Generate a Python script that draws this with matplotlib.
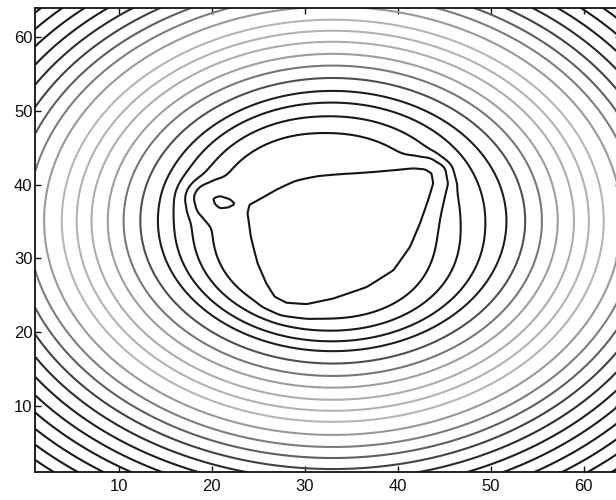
import numpy as np
import matplotlib
matplotlib.use("Agg")
import matplotlib.pyplot as plt
from matplotlib.path import Path
from matplotlib.colors import LinearSegmentedColormap

# Matrix size (MATLAB-style 1-based indices)
n_cols = 64
n_rows = 64

# Contour levels (field value = effective distance from the basin centre)
levels = [6.0, 12.1, 14.55, 16.8, 18.75, 20.7, 22.5, 24.2, 25.95, 27.55, 29.15,
          31.05, 32.8, 34.4, 36.0, 37.6, 39.2, 40.8, 42.4, 44.0, 45.6, 47.2, 48.8]

# Basin centre / vertical scaling of the outer rings and of the inner rings
outer_centre = [33.0, 35.1]
outer_aspect = 1.07
inner_centre = [32.1, 34.2]
inner_aspect = 0.945
inner_power = 2.2

# Outline of the flat minimum region
plateau_x = [24.09, 23.9, 24.27, 24.98, 25.88, 26.77, 28.03, 30.18, 33.04, 36.63,
             39.5, 41.29, 42.37, 43.26, 43.8, 43.62, 42.9, 41.65, 38.06, 34.48,
             31.61, 29.11, 26.96, 25.16]
plateau_y = [37.23, 36.1, 32.94, 29.33, 26.62, 24.81, 24.0, 23.82, 24.59, 26.16,
             28.43, 31.58, 34.75, 37.91, 40.17, 41.53, 42.07, 42.2, 41.75, 41.3,
             40.85, 40.17, 39.04, 37.91]

# Outline of the small secondary minimum
island_x = [20.14, 20.86, 21.94, 22.47, 21.75, 20.86, 20.32]
island_y = [38.14, 38.45, 38.0, 37.37, 36.92, 36.79, 37.37]

# Distance over which each minimum climbs to the second level
plateau_rise = 1.5
island_rise = 2.0
blend_width = 1.3
saddle_width = 1.6

x = np.linspace(1, n_cols, 253)
y = np.linspace(1, n_rows, 253)
X, Y = np.meshgrid(x, y)


def signed_distance(px, py, vx, vy):
    vx = np.asarray(vx, float)
    vy = np.asarray(vy, float)
    bx_, by_ = np.roll(vx, -1), np.roll(vy, -1)
    d = np.full(px.shape, np.inf)
    for x0, y0, x1, y1 in zip(vx, vy, bx_, by_):
        ex, ey = x1 - x0, y1 - y0
        t = np.clip(((px - x0) * ex + (py - y0) * ey) / (ex * ex + ey * ey), 0, 1)
        d = np.minimum(d, np.hypot(px - (x0 + t * ex), py - (y0 + t * ey)))
    inside = Path(np.column_stack([vx, vy])).contains_points(
        np.column_stack([px.ravel(), py.ravel()])).reshape(px.shape)
    return np.where(inside, -d, d)


def soft_min(a, b, k):
    lo = np.minimum(a, b)
    return lo - k * np.log(np.exp(-(a - lo) / k) + np.exp(-(b - lo) / k))


r_out = np.hypot(X - outer_centre[0], outer_aspect * (Y - outer_centre[1]))
r_in = (np.abs(X - inner_centre[0]) ** inner_power
        + np.abs(inner_aspect * (Y - inner_centre[1])) ** inner_power) ** (1.0 / inner_power)
w = np.clip((r_out - 12.0) / 8.0, 0, 1)
w = w * w * (3 - 2 * w)
r = (1 - w) * r_in + w * r_out

step = levels[1] - levels[0]
d_main = signed_distance(X, Y, plateau_x, plateau_y)
d_isl = signed_distance(X, Y, island_x, island_y)
p_main = levels[0] + step * d_main / plateau_rise
p_isl = levels[0] + step * d_isl / island_rise
# keep the two minima separate at the first level, merge them smoothly above it
p_both = np.where((d_main <= 0) | (d_isl <= 0), np.minimum(p_main, p_isl),
                  np.maximum(soft_min(p_main, p_isl, saddle_width),
                             np.minimum(levels[0] + 0.4, np.minimum(p_main, p_isl))))
Z = soft_min(r, p_both, blend_width)

# Grey rendering of the level colours
print_gray = LinearSegmentedColormap.from_list(
    "print_gray",
    [(0.0, "#141414"), (0.18, "#1e1e1e"), (0.23, "#525252"), (0.28, "#808080"),
     (0.33, "#a8a8a8"), (0.45, "#b8b8b8"), (0.5, "#9a9a9a"), (0.55, "#7a7a7a"),
     (0.6, "#5a5a5a"), (0.65, "#383838"), (0.72, "#1e1e1e"), (1.0, "#141414")])
n_lev = len(levels)
line_colors = [print_gray(i / (n_lev - 1)) for i in range(n_lev)]

fig = plt.figure(figsize=(6.16, 5.0), dpi=100)
ax = fig.add_axes([0.0573, 0.0552, 0.9507, 0.9298])
ax.contour(X, Y, Z, levels=levels, colors=line_colors, linewidths=1.5)

ax.set_xlim(1, n_cols)
ax.set_ylim(1, n_rows)
ax.set_xticks([10, 20, 30, 40, 50, 60])
ax.set_yticks([10, 20, 30, 40, 50, 60])
ax.tick_params(direction="in", top=True, right=True, length=4, width=1,
               labelsize=12, colors="#111111")
ax.tick_params(axis="x", pad=5)
ax.tick_params(axis="y", pad=2)
for lbl in ax.get_xticklabels() + ax.get_yticklabels():
    lbl.set_fontfamily("Liberation Sans")
for s in ax.spines.values():
    s.set_linewidth(1.3)
    s.set_color("#111111")

fig.savefig("out.png", dpi=100)
